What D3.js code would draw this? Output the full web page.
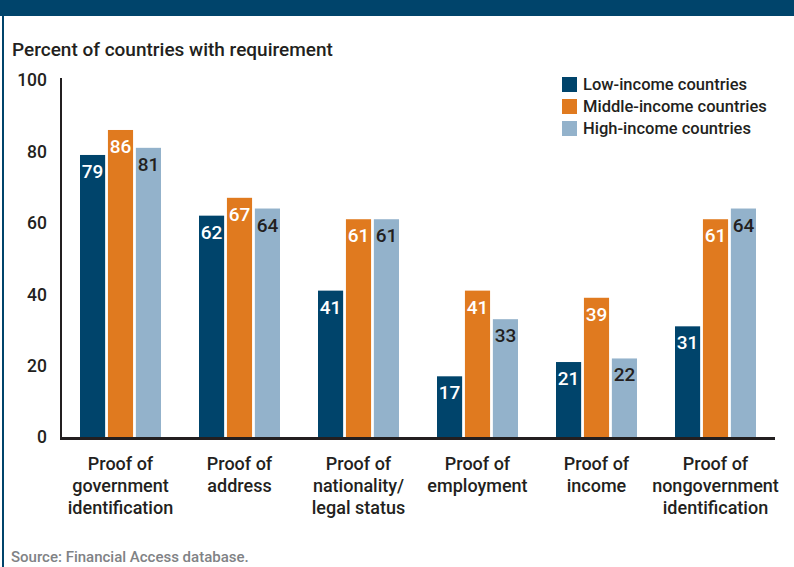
<!DOCTYPE html>
<html>
<head>
<meta charset="utf-8">
<script src="https://cdn.jsdelivr.net/npm/d3@7"></script>
<style>
  html, body { margin: 0; padding: 0; background: #fff; }
  svg { display: block; font-family: Roboto, "Noto Sans", sans-serif; }
</style>
</head>
<body>
<svg id="chart" width="794" height="567"></svg>
<script>
// Requirements for opening a deposit account, by country income group
const categories = [
  ["Proof of", "government", "identification"],
  ["Proof of", "address"],
  ["Proof of", "nationality/", "legal status"],
  ["Proof of", "employment"],
  ["Proof of", "income"],
  ["Proof of", "nongovernment", "identification"]
];
const seriesNames = ["Low-income countries", "Middle-income countries", "High-income countries"];
const lowIncome    = [79, 62, 41, 17, 21, 31];
const middleIncome = [86, 67, 61, 41, 39, 61];
const highIncome   = [81, 64, 61, 33, 22, 64];
const yTicks = [0, 20, 40, 60, 80, 100];

const colors = ["#00446b", "#e07a1f", "#93b2cb"];
const labelColors = ["#ffffff", "#ffffff", "#231f20"];
const series = [lowIncome, middleIncome, highIncome];

const svg = d3.select("#chart");

// header band and frame line
svg.append("rect").attr("x", 0).attr("y", 0).attr("width", 794).attr("height", 16).attr("fill", "#00446b");
svg.append("rect").attr("x", 2).attr("y", 16).attr("width", 2).attr("height", 551).attr("fill", "#00446b");

// axis title
svg.append("text").attr("x", 12).attr("y", 56)
  .attr("font-size", 19).attr("font-weight", 500).attr("fill", "#231f20")
  .text("Percent of countries with requirement");

const x0 = d3.scaleBand().domain(d3.range(categories.length)).range([61, 775]);
const x1 = d3.scaleBand().domain(d3.range(series.length)).range([0, 81]).paddingInner(0.1);
const y = d3.scaleLinear().domain([0, 100]).range([437, 80]);

// y tick labels
svg.append("g").selectAll("text").data(yTicks).join("text")
  .attr("x", 47).attr("y", d => y(d)).attr("dy", "0.36em")
  .attr("text-anchor", "end").attr("font-size", 17.5).attr("font-weight", 500).attr("fill", "#231f20")
  .text(d => d);

// bars
const groups = svg.append("g").selectAll("g").data(categories).join("g")
  .attr("transform", (d, i) => `translate(${x0(i) + (x0.bandwidth() - 81) / 2},0)`);

groups.each(function(cat, i) {
  const g = d3.select(this);
  series.forEach((vals, s) => {
    const v = vals[i];
    g.append("rect")
      .attr("x", x1(s)).attr("width", x1.bandwidth())
      .attr("y", y(v)).attr("height", y(0) - y(v))
      .attr("fill", colors[s]);
    g.append("text")
      .attr("x", x1(s) + x1.bandwidth() / 2).attr("y", y(v) + 23)
      .attr("text-anchor", "middle").attr("font-size", 19).attr("font-weight", 500)
      .attr("fill", labelColors[s])
      .text(v);
  });
});

// axis lines
svg.append("line").attr("x1", 61).attr("x2", 61).attr("y1", 78).attr("y2", 440)
  .attr("stroke", "#231f20").attr("stroke-width", 2);
svg.append("line").attr("x1", 60).attr("x2", 775).attr("y1", 438.5).attr("y2", 438.5)
  .attr("stroke", "#231f20").attr("stroke-width", 3);

// category labels
svg.append("g").selectAll("text").data(categories).join("text")
  .attr("x", (d, i) => x0(i) + x0.bandwidth() / 2)
  .attr("y", 470)
  .attr("text-anchor", "middle").attr("font-size", 18).attr("font-weight", 500).attr("fill", "#231f20")
  .each(function(lines) {
    d3.select(this).selectAll("tspan").data(lines).join("tspan")
      .attr("x", d3.select(this).attr("x"))
      .attr("dy", (d, k) => k === 0 ? 0 : 22)
      .text(d => d);
  });

// legend
const legend = svg.append("g").selectAll("g").data(seriesNames).join("g")
  .attr("transform", (d, i) => `translate(562,${77 + i * 22})`);
legend.append("rect").attr("width", 15).attr("height", 15).attr("fill", (d, i) => colors[i]);
legend.append("text").attr("x", 21).attr("y", 13)
  .attr("font-size", 16.5).attr("font-weight", 500).attr("fill", "#231f20").text(d => d);

// source note
svg.append("text").attr("x", 11).attr("y", 562)
  .attr("font-size", 15).attr("font-weight", 500).attr("fill", "#808285")
  .text("Source: Financial Access database.");
</script>
</body>
</html>
